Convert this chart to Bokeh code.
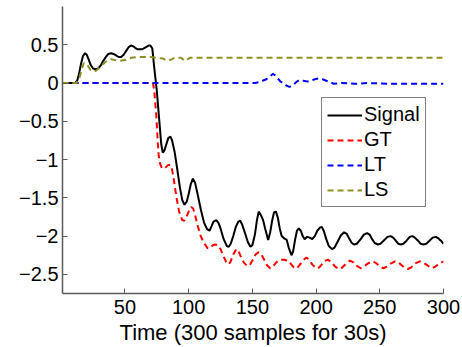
from bokeh.plotting import figure
from bokeh.models import Legend, LegendItem, FixedTicker, Range1d
from bokeh.embed import file_html
from bokeh.resources import INLINE

# ---- data ----
sig_t = [1, 11, 12.5, 14, 15.5, 17, 18.7, 20, 21.5, 23, 25, 27, 29, 31, 33, 35, 37, 39, 41, 43,
         45, 47, 49, 51, 53, 54.7, 56.5, 58, 60, 62.6, 64.5, 66.5, 68.5, 70, 71.5, 73, 75, 77,
         78.5, 79.7, 81, 82.5, 84, 85.7, 87, 89, 91, 93, 95, 96.7, 98.5, 100, 101.7, 103.3, 105,
         107, 109.5, 112, 114.5, 116.4, 118, 119.5, 121.7, 123.5, 125, 127.5, 130, 131.5, 133, 135,
         137, 139, 140.5, 142, 144, 146.5, 148.5, 150, 152, 153.5, 155, 156.5, 158.4, 160, 162.4,
         164, 165.5, 167, 168.5, 170, 171.5, 173, 175, 177, 178.5, 180.7, 182, 183.5, 185, 186.5,
         188, 189.5, 191, 193, 195, 197, 199, 201, 203, 204.5, 206, 208, 210, 212.5, 214.5, 217,
         219.5, 222, 224, 226, 228, 230, 232, 235, 237.5, 240, 242, 244, 246, 248.5, 250.5, 253,
         256, 258.5, 260.5, 262.5, 264.5, 266.5, 268.5, 271, 273.5, 275.5, 277.5, 280, 282, 284.4,
         286.5, 289, 291.5, 294, 296, 298, 300]
sig_y = [0, 0, 0.03, 0.12, 0.25, 0.35, 0.39, 0.37, 0.31, 0.24, 0.19, 0.18, 0.19, 0.23, 0.29,
         0.34, 0.38, 0.39, 0.38, 0.36, 0.34, 0.34, 0.37, 0.42, 0.47, 0.49, 0.48, 0.46, 0.44, 0.44,
         0.45, 0.47, 0.49, 0.49, 0.45, 0.2, -0.1, -0.5, -0.8, -0.91, -0.88, -0.80, -0.72, -0.70,
         -0.75, -0.9, -1.12, -1.35, -1.53, -1.59, -1.55, -1.45, -1.32, -1.25, -1.30, -1.45, -1.65,
         -1.82, -1.91, -1.93, -1.87, -1.81, -1.79, -1.83, -1.9, -2.04, -2.13, -2.14, -2.1, -2.0,
         -1.88, -1.81, -1.80, -1.85, -1.95, -2.08, -2.14, -2.12, -1.98, -1.80, -1.68, -1.72, -1.79,
         -1.9, -2.05, -1.95, -1.8, -1.69, -1.68, -1.76, -1.9, -2.0, -2.03, -2.05, -2.15, -2.25,
         -2.2, -2.05, -1.93, -1.9, -1.93, -2.0, -2.04, -2.01, -2.02, -2.04, -2.0, -1.93, -1.89,
         -1.88, -1.93, -2.04, -2.13, -2.17, -2.15, -2.07, -1.99, -1.95, -1.97, -2.03, -2.09, -2.11,
         -2.10, -2.04, -1.98, -1.96, -1.98, -2.04, -2.09, -2.11, -2.10, -2.06, -2.01, -2.0, -2.02,
         -2.06, -2.10, -2.11, -2.10, -2.06, -2.01, -2.0, -2.02, -2.06, -2.10, -2.11, -2.10, -2.06,
         -2.02, -2.01, -2.03, -2.06, -2.1]

gt_t = [1, 72, 73, 74.5, 75.5, 76.5, 77.5, 79, 80.5, 82, 84, 85.7, 87, 88.5, 90.5, 92.5, 95,
        96.5, 98, 100, 102, 103.5, 105, 107, 109.5, 112, 115, 117, 119, 121, 123, 125, 127, 129.5,
        131.5, 133, 135, 137.4, 139, 141, 143.5, 146, 148, 150, 152.5, 155, 157, 159, 161.5, 164,
        166, 168, 170, 172, 175, 178, 180, 182.5, 185, 187, 189.5, 192.5, 194.5, 197, 200, 202.5,
        205, 207.5, 209.5, 212, 215, 218, 220.5, 223.5, 226.6, 229, 232, 235, 237.5, 240.5, 244,
        247, 250, 253, 255.5, 258.5, 262, 265, 268.5, 272, 274.5, 277.5, 281.5, 284.5, 288, 291,
        293.5, 296.5, 300]
gt_y = [0, 0, -0.1, -0.4, -0.7, -0.95, -1.05, -1.11, -1.12, -1.10, -1.07, -1.07, -1.13, -1.28,
        -1.5, -1.68, -1.79, -1.80, -1.76, -1.68, -1.62, -1.64, -1.72, -1.86, -2.0, -2.09, -2.16,
        -2.15, -2.12, -2.11, -2.12, -2.17, -2.25, -2.34, -2.37, -2.33, -2.24, -2.17, -2.19, -2.27,
        -2.35, -2.39, -2.38, -2.32, -2.24, -2.21, -2.24, -2.3, -2.38, -2.42, -2.40, -2.36, -2.32,
        -2.31, -2.31, -2.32, -2.36, -2.41, -2.42, -2.38, -2.32, -2.28, -2.31, -2.37, -2.42, -2.41,
        -2.36, -2.32, -2.31, -2.34, -2.40, -2.43, -2.41, -2.36, -2.32, -2.34, -2.39, -2.42, -2.40,
        -2.36, -2.33, -2.35, -2.40, -2.42, -2.40, -2.36, -2.33, -2.35, -2.40, -2.43, -2.41, -2.36,
        -2.33, -2.35, -2.39, -2.42, -2.40, -2.36, -2.33]

lt_t = [1, 152, 155, 158, 161, 163.5, 166, 168, 170, 172, 174, 176.5, 179, 181, 183, 185, 187,
        190, 193, 196, 199, 202, 205, 208, 211, 214, 220, 230, 240, 260, 280, 300]
lt_y = [0, 0, 0.01, 0.03, 0.05, 0.08, 0.12, 0.10, 0.06, 0.02, 0.0, -0.03, -0.05, -0.04, -0.01,
        0.02, 0.04, 0.03, 0.02, 0.03, 0.05, 0.06, 0.05, 0.03, 0.01, -0.01, 0.0, -0.01, 0.0, -0.01,
        -0.01, -0.01]

ls_t = [1, 12, 14.5, 16, 17.7, 20, 23, 26, 28, 30, 33, 35, 39, 45, 50, 55, 60, 65, 70, 75, 80,
        82, 84, 86.5, 89, 94, 97, 101, 110, 150, 200, 250, 300]
ls_y = [0, 0, 0.08, 0.18, 0.26, 0.25, 0.17, 0.15, 0.17, 0.2, 0.25, 0.28, 0.31, 0.29, 0.3, 0.33,
        0.34, 0.34, 0.34, 0.33, 0.32, 0.30, 0.29, 0.31, 0.33, 0.33, 0.29, 0.33, 0.33, 0.33, 0.33,
        0.33, 0.33]

x_ticks = [50, 100, 150, 200, 250, 300]
y_ticks = [0.5, 0, -0.5, -1, -1.5, -2, -2.5]
y_tick_labels = ["0.5", "0", "\u22120.5", "\u22121", "\u22121.5", "\u22122", "\u22122.5"]
series_names = ["Signal", "GT", "LT", "LS"]
x_label = "Time (300 samples for 30s)"

FONT = "Liberation Sans"

p = figure(width=462, height=347, output_backend="svg", toolbar_location=None,
           x_range=Range1d(1, 300), y_range=Range1d(-2.75, 1.0),
           min_border_left=62, min_border_right=19, min_border_top=6, min_border_bottom=51)
p.outline_line_color = None
p.grid.visible = False
p.background_fill_color = "white"
p.border_fill_color = "white"

r_sig = p.line(sig_t, sig_y, line_color="black", line_width=2)
r_gt = p.line(gt_t, gt_y, line_color="#ff0000", line_width=2, line_dash="6 4")
r_lt = p.line(lt_t, lt_y, line_color="#0000ff", line_width=2, line_dash="6 4")
r_ls = p.line(ls_t, ls_y, line_color="#8f8f21", line_width=2, line_dash="6 4")

for ax in (p.xaxis[0], p.yaxis[0]):
    ax.axis_line_color = "#5a5a5a"
    ax.axis_line_width = 1.5
    ax.major_tick_line_color = "#5a5a5a"
    ax.major_tick_in = 5
    ax.major_tick_out = 0
    ax.minor_tick_in = 0
    ax.minor_tick_out = 0
    ax.major_label_text_font = FONT
    ax.major_label_text_font_size = "20px"
    ax.major_label_text_color = "black"

p.xaxis[0].ticker = FixedTicker(ticks=x_ticks)
p.xaxis[0].major_label_standoff = 6
p.xaxis[0].axis_label = x_label
p.xaxis[0].axis_label_text_font = FONT
p.xaxis[0].axis_label_text_font_size = "22px"
p.xaxis[0].axis_label_text_font_style = "normal"
p.xaxis[0].axis_label_text_color = "black"
p.xaxis[0].axis_label_standoff = 3

p.yaxis[0].ticker = FixedTicker(ticks=y_ticks)
p.yaxis[0].major_label_overrides = {t: l for t, l in zip(y_ticks, y_tick_labels)}
p.yaxis[0].major_label_standoff = 4

legend = Legend(items=[LegendItem(label=n, renderers=[r]) for n, r in
                       zip(series_names, [r_sig, r_gt, r_lt, r_ls])],
                location=(259, 86))
legend.label_text_font = FONT
legend.label_text_font_size = "20px"
legend.label_text_color = "black"
legend.glyph_width = 35
legend.glyph_height = 20
legend.label_height = 20
legend.label_standoff = 2
legend.spacing = 2
legend.padding = 5
legend.margin = 0
legend.border_line_color = "black"
legend.border_line_width = 1.5
legend.background_fill_alpha = 1
p.add_layout(legend)

open("out.html", "w").write(file_html(p, INLINE))
